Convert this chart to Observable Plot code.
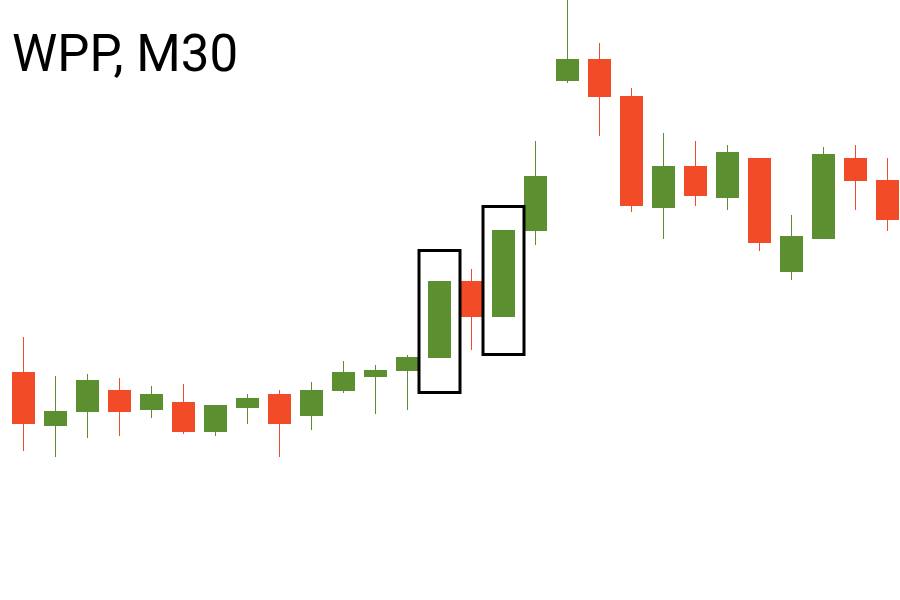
<!DOCTYPE html>
<html>
<head>
<meta charset="utf-8">
<script src="https://cdn.jsdelivr.net/npm/d3@7"></script>
<script src="https://cdn.jsdelivr.net/npm/@observablehq/plot@0.6"></script>
<style>
  html, body { margin: 0; padding: 0; background: #ffffff; }
  #wrap { position: relative; width: 900px; height: 600px; overflow: hidden; }
  #title { position: absolute; left: 12px; top: 28px; font-family: Roboto, "Noto Sans", sans-serif; font-size: 51px; color: #000; line-height: 1; }
</style>
</head>
<body>
<div id="wrap">
  <div id="chart"></div>
  <div id="title">WPP, M30</div>
</div>
<script>
const bars  = [1,2,3,4,5,6,7,8,9,10,11,12,13,14,15,16,17,18,19,20,21,22,23,24,25,26,27,28];
const open  = [922.8,917.4,918.8,921.0,919.0,919.8,916.8,919.2,920.6,918.4,920.9,922.3,922.9,924.2,931.9,928.3,936.9,951.9,954.1,950.4,939.2,943.4,940.2,944.2,932.8,936.1,944.2,942.0];
const high  = [926.3,922.4,922.6,922.2,921.4,921.6,919.5,920.6,921.0,921.8,923.9,923.5,924.5,931.9,933.1,937.0,945.9,960.0,955.7,951.2,946.7,945.9,945.5,944.2,938.5,945.3,945.5,944.2];
const low   = [914.9,914.3,916.2,916.4,918.2,916.6,916.4,917.6,914.3,917.0,920.7,918.6,919.0,924.2,925.0,928.3,935.5,951.7,946.4,938.8,936.1,939.4,939.0,934.9,932.0,936.1,939.0,936.9];
const close = [917.6,918.9,922.0,918.8,920.6,916.8,919.5,920.2,917.6,921.0,922.8,923.0,924.3,931.9,928.3,937.0,942.4,954.1,950.3,939.4,943.4,940.4,944.8,935.7,936.4,944.6,941.9,938.0];

// highlighted candles (bar number, box top, box bottom)
const boxBars   = [14, 16];
const boxTop    = [934.95, 939.35];
const boxBottom = [920.75, 924.55];

const upColor = "#5b8f30";
const downColor = "#f24b27";

const data = bars.map((b, i) => ({bar: b, open: open[i], high: high[i], low: low[i], close: close[i]}));
const boxes = boxBars.map((b, i) => ({bar: b, top: boxTop[i], bottom: boxBottom[i]}));
const col = d => d.close >= d.open ? upColor : downColor;

const chart = Plot.plot({
  width: 900,
  height: 600,
  marginLeft: 12,
  marginRight: 1,
  marginTop: 0,
  marginBottom: 0,
  x: {type: "band", domain: bars, paddingInner: 9/32, paddingOuter: 0, axis: null},
  y: {domain: [900, 960], axis: null},
  marks: [
    Plot.ruleX(data, {x: "bar", y1: "low", y2: "high", stroke: col, strokeWidth: 1, dx: -0.5}),
    Plot.barY(data, {x: "bar", y1: "open", y2: "close", fill: col}),
    Plot.barY(boxes, {x: "bar", y1: "bottom", y2: "top", fill: "none", stroke: "#000", strokeWidth: 3, insetLeft: -9, insetRight: -9})
  ]
});
document.getElementById("chart").appendChild(chart);
</script>
</body>
</html>
